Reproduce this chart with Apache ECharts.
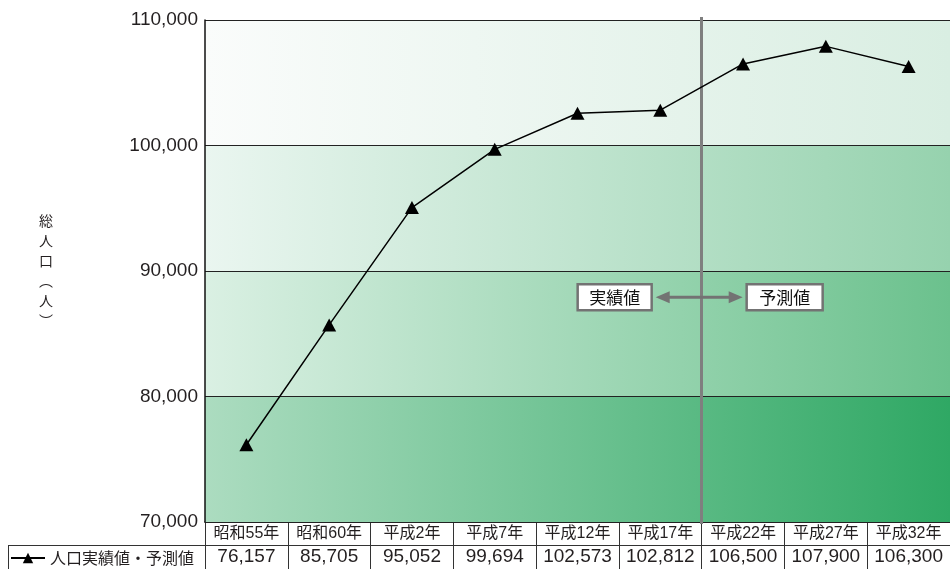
<!DOCTYPE html>
<html>
<head>
<meta charset="utf-8">
<script src="https://cdn.jsdelivr.net/npm/echarts@6/dist/echarts.min.js"></script>
<style>
  html, body { margin: 0; padding: 0; background: #fff; }
  #chart { width: 950px; height: 569px; }
</style>
</head>
<body>
<div id="chart"></div>
<script>
// Census years (Showa / Heisei) and total population, actual then projected
const categories = ['昭和55年', '昭和60年', '平成2年', '平成7年', '平成12年', '平成17年', '平成22年', '平成27年', '平成32年'];
const population = [76157, 85705, 95052, 99694, 102573, 102812, 106500, 107900, 106300];
const seriesName = '人口実績値・予測値';
const yTicks = { min: 70000, max: 110000, interval: 10000 };
// Background bands (value ranges) with their left -> right gradient colours
const bandRanges = [[100000, 110000], [90000, 100000], [80000, 90000], [70000, 80000]];
const bandColors = [['#fafcfb', '#d9eee2'], ['#eaf6f0', '#96d2ae'], ['#daf0e3', '#6bc18d'], ['#acdcc0', '#2fa864']];
const lastActualIndex = 5; // 平成17年: last actual figure, projections follow

const fmt = n => n.toLocaleString('en-US');
const NUM_FONT = '"Liberation Sans", Arial, "Noto Sans CJK JP", sans-serif';

const chart = echarts.init(document.getElementById('chart'), null, { renderer: 'canvas' });

const bandData = bandRanges.map((r, i) => [
  {
    yAxis: r[0],
    itemStyle: {
      color: {
        type: 'linear', x: 0, y: 0, x2: 1, y2: 0,
        colorStops: [{ offset: 0, color: bandColors[i][0] }, { offset: 1, color: bandColors[i][1] }]
      }
    }
  },
  { yAxis: r[1] }
]);

chart.setOption({
  animation: false,
  backgroundColor: '#ffffff',
  textStyle: { fontFamily: NUM_FONT, color: '#231f20' },
  grid: { left: 205, right: 0, top: 20, bottom: 47, containLabel: false },
  legend: {
    data: [seriesName],
    left: 10, top: 550, padding: 0,
    itemWidth: 34, itemHeight: 13, itemGap: 5,
    textStyle: { fontSize: 16, color: '#231f20', fontFamily: '"Noto Sans CJK JP", sans-serif' }
  },
  xAxis: {
    type: 'category',
    data: categories,
    boundaryGap: true,
    axisLine: { lineStyle: { color: '#111', width: 1.5 } },
    axisTick: { show: true, interval: 0, length: 47, lineStyle: { color: '#333', width: 1 } },
    axisLabel: {
      interval: 0, margin: 0,
      formatter: (v, i) => `{c|${v}}\n{v|${fmt(population[i])}}`,
      rich: {
        c: { fontSize: 16, lineHeight: 23, color: '#231f20', fontFamily: NUM_FONT },
        v: { fontSize: 19, lineHeight: 24, color: '#231f20', fontFamily: NUM_FONT }
      }
    }
  },
  yAxis: {
    type: 'value',
    min: yTicks.min, max: yTicks.max, interval: yTicks.interval,
    z: 2,
    name: '総\n人\n口\n︵\n人\n︶',
    nameLocation: 'middle', nameRotate: 0, nameGap: 152,
    nameTextStyle: { fontSize: 14, lineHeight: 20, color: '#231f20', fontFamily: '"Noto Sans CJK JP", sans-serif' },
    axisLine: { show: true, lineStyle: { color: '#111', width: 1.5 } },
    axisTick: { show: false },
    splitLine: { show: true, lineStyle: { color: '#222', width: 1.2 } },
    axisLabel: { fontSize: 19, color: '#231f20', margin: 7, formatter: fmt }
  },
  series: [
    {
      // colour bands behind the plot
      type: 'line', name: 'bands', data: population, z: 1, silent: true,
      showSymbol: false, lineStyle: { opacity: 0 },
      markArea: { silent: true, data: bandData }
    },
    {
      // divider between actual and projected figures (placed below once the layout is known)
      type: 'line', name: 'divider', data: population, z: 3, silent: true,
      showSymbol: false, lineStyle: { opacity: 0 }
    },
    {
      type: 'line', name: seriesName, data: population, z: 5,
      symbol: 'triangle', symbolSize: [14, 13],
      itemStyle: { color: '#000' },
      lineStyle: { color: '#000', width: 1.5 }
    }
  ]
});

// Divider sits on the boundary between the last actual and first projected year
const xa = chart.convertToPixel({ xAxisIndex: 0 }, lastActualIndex);
const xb = chart.convertToPixel({ xAxisIndex: 0 }, lastActualIndex + 1);
const xDiv = (xa + xb) / 2;
const yTop = chart.convertToPixel({ yAxisIndex: 0 }, yTicks.max);
const yBottom = chart.convertToPixel({ yAxisIndex: 0 }, yTicks.min);
const yMid = chart.convertToPixel({ yAxisIndex: 0 }, 87900);
const gray = '#737373';
const boxStyle = { fill: '#fff', stroke: gray, lineWidth: 2.5 };
const txtStyle = { fontSize: 17, fill: '#111', fontFamily: '"Noto Sans CJK JP", sans-serif', align: 'center', verticalAlign: 'middle' };

chart.setOption({
  series: [
    {},
    {
      markLine: {
        silent: true, symbol: 'none', label: { show: false },
        lineStyle: { color: '#7f7f7f', width: 3, type: 'solid' },
        data: [[{ x: xDiv, y: yTop - 3 }, { x: xDiv, y: yBottom + 2 }]]
      }
    },
    {}
  ],
  graphic: [
    { type: 'rect', shape: { x: xDiv - 124, y: yMid - 13, width: 74, height: 26 }, style: boxStyle, z: 10 },
    { type: 'text', x: xDiv - 87, y: yMid, style: Object.assign({ text: '実績値' }, txtStyle), z: 11 },
    { type: 'rect', shape: { x: xDiv + 45, y: yMid - 13, width: 76, height: 26 }, style: boxStyle, z: 10 },
    { type: 'text', x: xDiv + 83, y: yMid, style: Object.assign({ text: '予測値' }, txtStyle), z: 11 },
    { type: 'line', shape: { x1: xDiv - 34, y1: yMid, x2: xDiv + 28, y2: yMid }, style: { stroke: gray, lineWidth: 3 }, z: 10 },
    { type: 'polygon', shape: { points: [[xDiv - 46, yMid], [xDiv - 32, yMid - 6], [xDiv - 32, yMid + 6]] }, style: { fill: gray }, z: 10 },
    { type: 'polygon', shape: { points: [[xDiv + 41, yMid], [xDiv + 27, yMid - 6], [xDiv + 27, yMid + 6]] }, style: { fill: gray }, z: 10 },
    // table: rule under the year row and the left edge of the legend cell
    { type: 'line', shape: { x1: 8, y1: 545.5, x2: 950, y2: 545.5 }, style: { stroke: '#333', lineWidth: 1 }, z: 10 },
    { type: 'line', shape: { x1: 8.5, y1: 545, x2: 8.5, y2: 569 }, style: { stroke: '#333', lineWidth: 1 }, z: 10 }
  ]
});
</script>
</body>
</html>
